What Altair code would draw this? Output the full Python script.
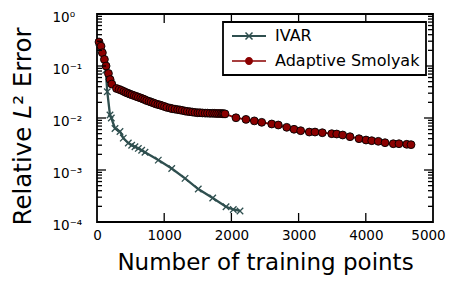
import altair as alt
import pandas as pd

# ---------------- data ----------------
ivar_x = [30, 60, 130, 153, 193, 213, 268, 342, 391, 466, 516, 565, 615, 665, 714,
          912, 1112, 1310, 1507, 1722, 1920, 2028, 2128]
ivar_y = [0.28, 0.2, 0.083, 0.032, 0.0114, 0.01, 0.0063, 0.0055, 0.0041, 0.0033, 0.003,
          0.0028, 0.0026, 0.0024, 0.0022, 0.00155, 0.00107, 0.00069, 0.00043, 0.00029,
          0.000196, 0.000174, 0.000163]

smol_x = [30, 60, 80, 110, 135, 170, 195, 220,
          290, 330, 365, 400, 430, 460, 490, 520, 555, 585,
          615, 650, 680, 710, 740, 775, 805, 840, 870, 905,
          937, 970, 1005, 1040, 1086, 1120, 1160, 1200, 1235, 1270,
          1310, 1345, 1384, 1420, 1460, 1500, 1533, 1570, 1610, 1645,
          1682, 1720, 1750, 1780, 1810, 1840, 1865, 1885, 1905,
          2068, 2217, 2341,
          2451, 2600, 2698, 2823, 2932, 3031, 3159, 3244, 3353, 3493,
          3567, 3656, 3765, 3899, 4003, 4088, 4186, 4286, 4409, 4494,
          4609, 4673]
smol_y = [0.29, 0.24, 0.18, 0.134, 0.1, 0.072, 0.055, 0.045,
          0.037, 0.0355, 0.034, 0.0324, 0.031, 0.0299, 0.0288, 0.0279, 0.0269, 0.026,
          0.0251, 0.0243, 0.0234, 0.0226, 0.0216, 0.0209, 0.0202, 0.0195, 0.0188, 0.0182,
          0.0178, 0.0172, 0.0166, 0.016, 0.0155, 0.0151, 0.0148, 0.0145, 0.0143, 0.014,
          0.0136, 0.0134, 0.0132, 0.013, 0.0128, 0.0126, 0.0126, 0.0125, 0.0124, 0.0124,
          0.0123, 0.0123, 0.0123, 0.0122, 0.0122, 0.0122, 0.0121, 0.0121, 0.012,
          0.0101, 0.0094, 0.0088,
          0.00826, 0.00767, 0.00733, 0.00662, 0.00607, 0.0057, 0.00537, 0.00537, 0.00521, 0.00499,
          0.00492, 0.00471, 0.00437, 0.004, 0.00377, 0.00366, 0.00356, 0.00335, 0.0032, 0.0032,
          0.00312, 0.00307]

series_names = ["IVAR", "Adaptive Smolyak"]

x_ticks = [0, 1000, 2000, 3000, 4000, 5000]
y_ticks = [1e-4, 1e-3, 1e-2, 1e-1, 1]
y_tick_labels = ["10⁻⁴", "10⁻³", "10⁻²", "10⁻¹", "10⁰"]
y_minor = [m * d for d in [1e-4, 1e-3, 1e-2, 1e-1] for m in [2, 3, 4, 5, 6, 7, 8, 9]]
x_inner_ticks = [1000, 2000, 3000, 4000]

# ---------------- styling ----------------
W, H = 336, 208
GRAY = "#2f4f4f"
RED = "#8b0000"
FONT = "DejaVu Sans"

df = pd.DataFrame({
    "x": ivar_x + smol_x,
    "y": ivar_y + smol_y,
    "series": [series_names[0]] * len(ivar_x) + [series_names[1]] * len(smol_x),
})

xscale = alt.Scale(domain=[0, 5000], nice=False, zero=False)
yscale = alt.Scale(type="log", domain=[1e-4, 1], nice=False)

label_expr = " : ".join(
    f"datum.value >= {v * 0.5} ? '{l}'" for v, l in zip(y_ticks[::-1], y_tick_labels[::-1])
) + " : ''"

XT = "Number of training points"
YT = "Relative 𝐿²  Error"

x_axis = alt.Axis(values=x_ticks, ticks=False, format="d",
                  domain=False, grid=False, labelFontSize=13.5, labelPadding=6,
                  labelOffset={"condition": {"test": f"datum.value == {x_ticks[-1]}", "value": -5},
                               "value": 0},
                  labelFlush=False, titleFontSize=23, titleFontWeight="normal",
                  titleX=W / 2, titleY=47, titleBaseline="alphabetic",
                  labelFont=FONT, titleFont=FONT, labelColor="black", titleColor="black")
y_axis = alt.Axis(values=y_ticks, ticks=False, domain=False,
                  grid=False, labelExpr=label_expr, labelFontSize=13.5, labelPadding=45,
                  labelAlign="left", labelOffset=3,
                  labelFlush=False, titleFontSize=24.5, titleFontWeight="normal",
                  titleX=-74, titleY=112, titleBaseline="middle", titleAngle=-90,
                  labelFont=FONT, titleFont=FONT, labelColor="black", titleColor="black")


def X(field):
    return alt.X(field, scale=xscale, axis=x_axis, title=XT)


def Y(field):
    return alt.Y(field, scale=yscale, axis=y_axis, title=YT)


base = alt.Chart(df)

ivar_line = base.transform_filter(alt.datum.series == series_names[0]).mark_line(
    color=GRAY, strokeWidth=2.3).encode(x=X("x:Q"), y=Y("y:Q"))
ivar_pts = base.transform_filter(alt.datum.series == series_names[0]).mark_point(
    shape="M-1,-1L1,1M-1,1L1,-1", filled=False, color=GRAY, strokeWidth=1.3,
    size=42, opacity=1).encode(x=X("x:Q"), y=Y("y:Q"))
smol_line = base.transform_filter(alt.datum.series == series_names[1]).mark_line(
    color=RED, strokeWidth=1.8).encode(x=X("x:Q"), y=Y("y:Q"))
smol_pts = base.transform_filter(alt.datum.series == series_names[1]).mark_point(
    shape="circle", filled=True, fill=RED, stroke="black", strokeWidth=0.9,
    size=62, opacity=1).encode(x=X("x:Q"), y=Y("y:Q"))

# legend symbols: line + marker drawn as custom paths
ivar_sym = ("M-3.4,-0.18H3.4V0.18H-3.4Z "
            "M-0.594,-0.806L0.806,0.594L0.594,0.806L-0.806,-0.594Z "
            "M-0.806,0.594L0.594,-0.806L0.806,-0.594L-0.594,0.806Z")
smol_sym = ("M-3.4,-0.16H3.4V0.16H-3.4Z "
            "M-0.8,0A0.8,0.8 0 1,1 0.8,0A0.8,0.8 0 1,1 -0.8,0Z")

legend_layer = base.transform_filter("false").mark_point(filled=True, opacity=1, size=100).encode(
    x=X("x:Q"), y=Y("y:Q"),
    color=alt.Color("series:N", scale=alt.Scale(domain=series_names, range=[GRAY, RED]),
                    legend=alt.Legend(title=None, orient="none", legendX=126, legendY=8,
                                      padding=6, rowPadding=9, symbolOffset=12,
                                      labelOffset=18, labelFontSize=16, labelFont=FONT,
                                      labelColor="black", strokeColor="black",
                                      fillColor="white", cornerRadius=0,
                                      symbolStrokeWidth=0, symbolSize=100)),
    shape=alt.Shape("series:N", scale=alt.Scale(domain=series_names, range=[ivar_sym, smol_sym]),
                    legend=alt.Legend(title=None, orient="none", legendX=126, legendY=8)),
)

# inward ticks on all four sides
ymaj = pd.DataFrame({"y": y_ticks})
ymin = pd.DataFrame({"y": y_minor})
xmaj = pd.DataFrame({"x": x_inner_ticks})


def yrule(d, x0, x1):
    return alt.Chart(d).mark_rule(color="black", strokeWidth=1.3).encode(
        y=Y("y:Q"), x=alt.value(x0), x2=alt.value(x1))


def xrule(d, y0, y1):
    return alt.Chart(d).mark_rule(color="black", strokeWidth=1.3).encode(
        x=X("x:Q"), y=alt.value(y0), y2=alt.value(y1))


ticks = [
    yrule(ymaj, 0, 9), yrule(ymaj, W - 9, W),
    yrule(ymin, 0, 5), yrule(ymin, W - 5, W),
    xrule(xmaj, H - 9, H), xrule(xmaj, 0, 9),
]

chart = alt.layer(
    ivar_line, ivar_pts, smol_line, smol_pts, *ticks, legend_layer
).properties(
    width=W, height=H,
    autosize=alt.AutoSizeParams(type="none"),
    padding={"left": 89, "top": 6, "right": 14, "bottom": 53},
    background="white",
).configure_view(
    stroke="black", strokeWidth=1.8,
).configure_legend(
    strokeWidth=1.8,
)

chart.save("out.html", embed_options={"renderer": "svg", "actions": False})
